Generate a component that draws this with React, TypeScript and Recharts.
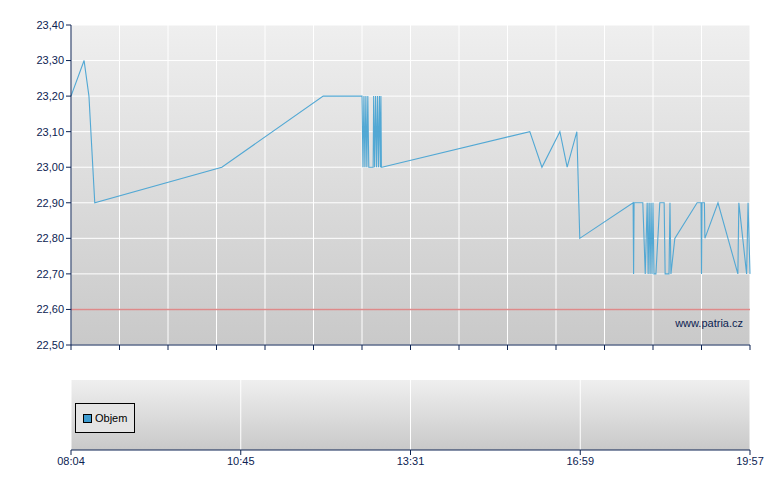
import React from 'react';
import {
  LineChart, Line, XAxis, YAxis, CartesianGrid, ReferenceLine,
  ComposedChart, Bar, Legend
} from 'recharts';

// x is measured in grid columns of the price panel (0 = 08:04, 14 = 19:57)
const priceT = [
  0, 0.27, 0.37, 0.49, 3.11, 5.2, 6.0, 6.02, 6.04, 6.06, 6.08, 6.1, 6.12, 6.14,
  6.23, 6.24, 6.26, 6.28, 6.3, 6.32, 6.34, 6.36, 6.38, 6.39, 6.4, 6.41,
  9.46, 9.71, 10.08, 10.23, 10.43, 10.49,
  11.59, 11.6, 11.61, 11.79, 11.84, 11.88, 11.9, 11.92, 11.94, 11.96, 11.98, 12.0, 12.02, 12.06,
  12.14, 12.23, 12.25, 12.33, 12.35, 12.37, 12.45,
  12.91, 12.99, 13.0, 13.01, 13.06, 13.07, 13.34, 13.75, 13.77, 13.93, 13.96, 14.0,
];
const priceV = [
  23.2, 23.3, 23.2, 22.9, 23.0, 23.2, 23.2, 23.0, 23.2, 23.0, 23.2, 23.0, 23.2, 23.0,
  23.0, 23.2, 23.0, 23.2, 23.0, 23.2, 23.0, 23.2, 23.0, 23.2, 23.0, 23.0,
  23.1, 23.0, 23.1, 23.0, 23.1, 22.8,
  22.9, 22.7, 22.9, 22.9, 22.7, 22.9, 22.7, 22.9, 22.7, 22.9, 22.7, 22.9, 22.7, 22.7,
  22.9, 22.9, 22.7, 22.7, 22.9, 22.7, 22.8,
  22.9, 22.9, 22.7, 22.9, 22.9, 22.8, 22.9, 22.7, 22.9, 22.7, 22.9, 22.7,
];
const prevClose = 22.6;
const yTicks = [22.5, 22.6, 22.7, 22.8, 22.9, 23.0, 23.1, 23.2, 23.3, 23.4];
const gridTicks = [0, 1, 2, 3, 4, 5, 6, 7, 8, 9, 10, 11, 12, 13, 14];
const timeTicks = [0, 3.5, 7, 10.5, 14];
const timeLabels = ['08:04', '10:45', '13:31', '16:59', '19:57'];

const NAVY = '#0c2352';
const LINE = '#52a8d4';
const FONT = '"Liberation Sans", Arial, sans-serif';

const priceData = priceT.map((t, i) => ({ t, price: priceV[i] }));
const volumeData = timeTicks.map((t) => ({ t, objem: null as number | null }));

const fmtPrice = (v: number) => v.toFixed(2).replace('.', ',');
const fmtTime = (v: number) => timeLabels[timeTicks.indexOf(v)] ?? '';

const NoLabel = () => null;

const LegendBox = () => (
  <div style={{
    width: 60, height: 30, boxSizing: 'border-box', border: '1px solid #000',
    background: '#e4e4e4', display: 'flex', alignItems: 'center',
    fontFamily: FONT, fontSize: 11, color: '#000',
  }}>
    <span style={{
      display: 'inline-block', width: 7, height: 7, marginLeft: 7,
      background: '#3d9bd0', border: '1px solid #000',
    }} />
    <span style={{ marginLeft: 3 }}>Objem</span>
  </div>
);

export default function App() {
  return (
    <div style={{ position: 'absolute', left: 0, top: 0, width: 780, height: 490, background: '#fff' }}>
      <div style={{ position: 'absolute', left: 0, top: 0 }}>
        <LineChart width={780} height={360} data={priceData}
          margin={{ top: 25, right: 30, bottom: 0, left: 0 }}>
          <defs>
            <linearGradient id="bgMain" x1="0" y1="0" x2="0" y2="1">
              <stop offset="0%" stopColor="#efefef" />
              <stop offset="100%" stopColor="#c9c9c9" />
            </linearGradient>
          </defs>
          <CartesianGrid fill="url(#bgMain)" stroke="#ffffff" strokeWidth={1} />
          <XAxis dataKey="t" type="number" domain={[0, 14]} ticks={gridTicks}
            tick={<NoLabel />} height={15} tickSize={5} interval={0}
            axisLine={{ stroke: NAVY }} tickLine={{ stroke: NAVY }} />
          <YAxis type="number" domain={[22.5, 23.4]} ticks={yTicks} width={71}
            tickFormatter={fmtPrice} tickSize={5} interval={0}
            axisLine={{ stroke: NAVY }} tickLine={{ stroke: NAVY }}
            tick={{ fill: NAVY, fontSize: 11, fontFamily: FONT }} />
          <ReferenceLine y={prevClose} stroke="#de8a8a" strokeWidth={1.5} />
          <Line type="linear" dataKey="price" stroke={LINE} strokeWidth={1.1}
            dot={false} isAnimationActive={false} />
        </LineChart>
      </div>
      <div style={{
        position: 'absolute', left: 600, top: 317, width: 143, textAlign: 'right',
        fontFamily: FONT, fontSize: 11, color: NAVY,
      }}>www.patria.cz</div>
      <div style={{ position: 'absolute', left: 0, top: 360 }}>
        <ComposedChart width={780} height={130} data={volumeData}
          margin={{ top: 20, right: 30, bottom: 0, left: 71 }}>
          <defs>
            <linearGradient id="bgVol" x1="0" y1="0" x2="0" y2="1">
              <stop offset="0%" stopColor="#efefef" />
              <stop offset="100%" stopColor="#c9c9c9" />
            </linearGradient>
          </defs>
          <CartesianGrid fill="url(#bgVol)" stroke="#ffffff" horizontal={false} />
          <XAxis dataKey="t" type="number" domain={[0, 14]} ticks={timeTicks}
            tickFormatter={fmtTime} height={40} tickSize={5} interval={0}
            axisLine={{ stroke: NAVY }} tickLine={{ stroke: NAVY }}
            tick={{ fill: NAVY, fontSize: 11, fontFamily: FONT }} />
          <YAxis hide domain={[0, 1]} />
          <Legend content={<LegendBox />} verticalAlign="middle" layout="horizontal"
            wrapperStyle={{ left: 75, top: 43, width: 'auto' }} />
          <Bar dataKey="objem" name="Objem" fill="#3d9bd0" isAnimationActive={false} />
        </ComposedChart>
      </div>
    </div>
  );
}
